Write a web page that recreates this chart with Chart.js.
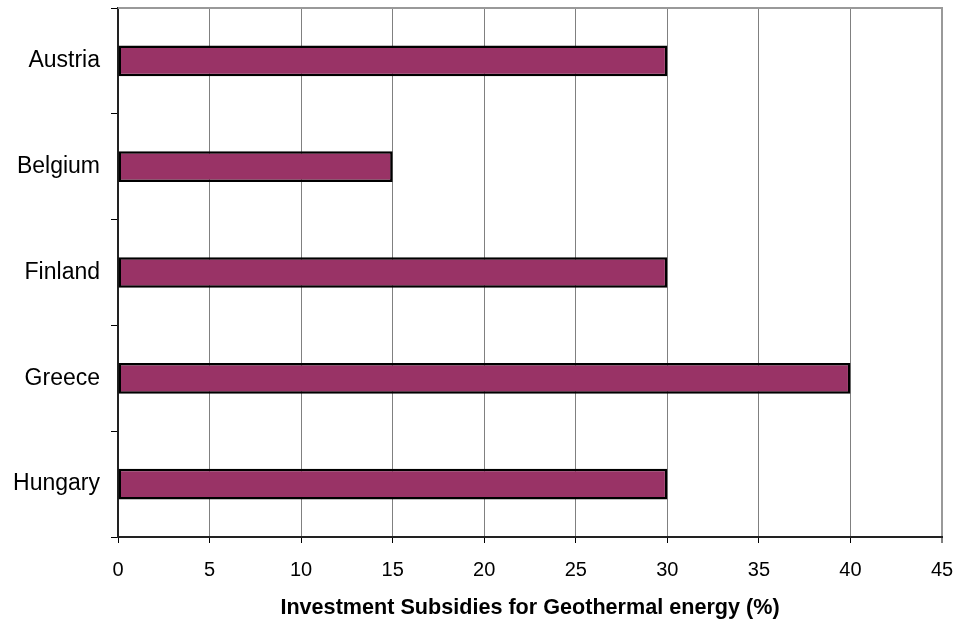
<!DOCTYPE html>
<html>
<head>
<meta charset="utf-8">
<script src="https://cdn.jsdelivr.net/npm/chart.js@4/dist/chart.umd.min.js"></script>
<style>
  html, body { margin: 0; padding: 0; background: #fff; }
  #wrap { width: 957px; height: 624px; position: relative; }
</style>
</head>
<body>
<div id="wrap"><canvas id="c" width="957" height="624"></canvas></div>
<script>
// Investment subsidies for geothermal energy, by country (%)
const countries = ['Austria', 'Belgium', 'Finland', 'Greece', 'Hungary'];
const subsidies = [30, 15, 30, 40, 30];
const xTicks = [0, 5, 10, 15, 20, 25, 30, 35, 40, 45];
const axisTitle = 'Investment Subsidies for Geothermal energy (%)';

const FONT = "'Liberation Sans', Arial, sans-serif";

// Grey frame line along the top of the plot area
const topFrame = {
  id: 'topFrame',
  afterDraw(chart) {
    const { ctx, chartArea } = chart;
    ctx.save();
    ctx.strokeStyle = '#999999';
    ctx.lineWidth = 2;
    ctx.beginPath();
    ctx.moveTo(chartArea.left, chartArea.top);
    ctx.lineTo(chartArea.right + 1, chartArea.top);
    ctx.stroke();
    ctx.restore();
  }
};

const lastTick = xTicks.length - 1;

new Chart(document.getElementById('c'), {
  type: 'bar',
  data: {
    labels: countries,
    datasets: [{
      data: subsidies,
      backgroundColor: '#993366',
      borderColor: '#000000',
      borderWidth: 2.5,
      borderSkipped: false,
      barPercentage: 0.29,
      categoryPercentage: 1.0
    }]
  },
  options: {
    indexAxis: 'y',
    responsive: false,
    animation: false,
    layout: { padding: { top: 8, right: 15, left: 0, bottom: 0 } },
    plugins: {
      legend: { display: false },
      tooltip: { enabled: false }
    },
    scales: {
      x: {
        min: xTicks[0],
        max: xTicks[lastTick],
        afterBuildTicks(scale) { scale.ticks = xTicks.map(v => ({ value: v })); },
        afterFit(scale) {
          scale.height = 87;
          scale.paddingLeft = 0;
          scale.paddingRight = 0;
        },
        grid: {
          color: ctx => (ctx.index === lastTick ? '#999999' : '#808080'),
          lineWidth: ctx => (ctx.index === lastTick ? 2 : 1),
          tickColor: '#000000',
          tickWidth: 1,
          tickLength: 6,
          drawTicks: true
        },
        border: { color: '#222222', width: 2 },
        ticks: {
          color: '#000000',
          font: { family: FONT, size: 20 },
          padding: 15,
          maxRotation: 0
        },
        title: {
          display: true,
          text: axisTitle,
          color: '#000000',
          font: { family: FONT, size: 21.6, weight: 'bold' },
          padding: { top: 0, bottom: 3 }
        }
      },
      y: {
        afterFit(scale) {
          scale.width = 118;
          scale.paddingTop = 0;
          scale.paddingBottom = 0;
        },
        grid: {
          offset: true,
          drawOnChartArea: false,
          tickColor: '#000000',
          tickLength: 7
        },
        border: { color: '#222222', width: 2 },
        ticks: {
          color: '#000000',
          font: { family: FONT, size: 23 },
          padding: 11
        }
      }
    }
  },
  plugins: [topFrame]
});
</script>
</body>
</html>
